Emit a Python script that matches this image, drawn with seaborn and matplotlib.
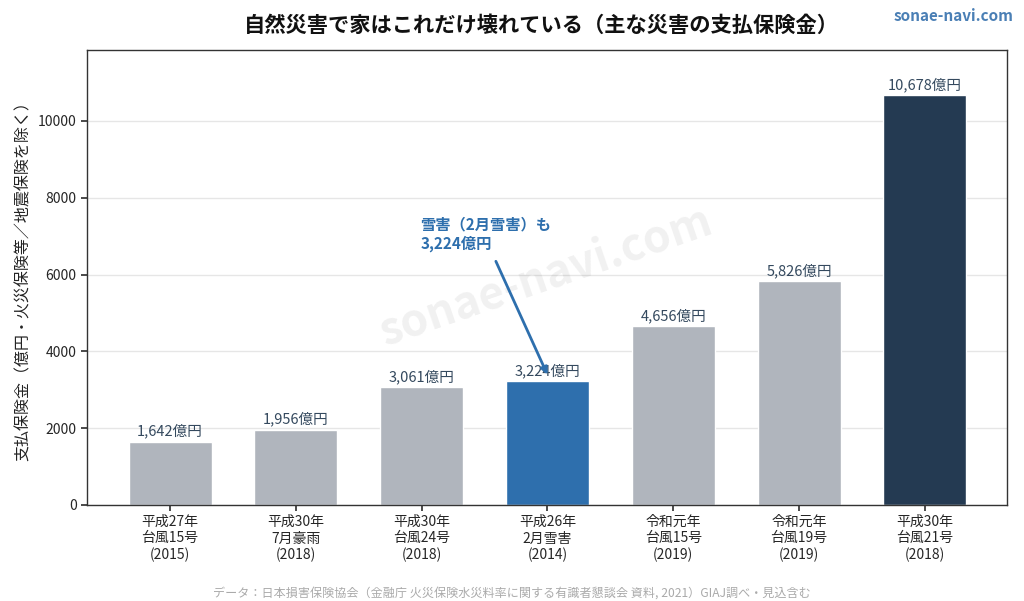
import matplotlib
matplotlib.use('Agg')
import matplotlib.pyplot as plt
import seaborn as sns
import pandas as pd

# Data
labels = ['平成27年\n台風15号\n(2015)', '平成30年\n7月豪雨\n(2018)', '平成30年\n台風24号\n(2018)',
          '平成26年\n2月雪害\n(2014)', '令和元年\n台風15号\n(2019)', '令和元年\n台風19号\n(2019)',
          '平成30年\n台風21号\n(2018)']
payouts = [1642, 1956, 3061, 3224, 4656, 5826, 10678]
bar_colors = ['#b0b5bd', '#b0b5bd', '#b0b5bd', '#2e6fad', '#b0b5bd', '#b0b5bd', '#243a52']

df = pd.DataFrame({'event': labels, 'payout': payouts})

sns.set_theme(style='white')
plt.rcParams['font.family'] = ['Noto Sans CJK JP', 'DejaVu Sans']

fig, ax = plt.subplots(figsize=(10.24, 6.01), dpi=100)
fig.subplots_adjust(left=0.085, right=0.983, top=0.917, bottom=0.16)

sns.barplot(data=df, x='event', y='payout', hue='event', palette=bar_colors,
            legend=False, width=0.66, saturation=1, ax=ax)

ax.set_xlim(-0.66, 6.65)
ax.set_ylim(0, max(payouts) * 1.11)
ax.yaxis.grid(True, color='#e6e6e6', linewidth=1)
ax.set_axisbelow(True)
for s in ax.spines.values():
    s.set_color('#333333')
    s.set_linewidth(1)
ax.tick_params(axis='both', length=4, color='#333333', labelsize=10, bottom=True, left=True)
ax.set_xlabel('')
ax.set_ylabel('支払保険金（億円・火災保険等／地震保険を除く）', fontsize=11.5, color='#222222')

for i, v in enumerate(payouts):
    ax.text(i, v + 80, f'{v:,}億円', ha='center', va='bottom', fontsize=10.5, color='#34495e')

# watermark
ax.text(0.5, 0.5, 'sonae-navi.com', transform=ax.transAxes, fontsize=32, fontweight='bold',
        color='#000000', alpha=0.06, rotation=19, ha='center', va='center')

# annotation for snow damage
ax.text(1.99, 6600, '雪害（2月雪害）も\n3,224億円', fontsize=11, fontweight='bold',
        color='#2e6fad', ha='left', va='bottom')
ax.annotate('', xy=(3, 3390), xytext=(2.59, 6345),
            arrowprops=dict(arrowstyle='-|>', color='#2e6fad', lw=2, shrinkA=0, shrinkB=0,
                            mutation_scale=10))

fig.text(0.529, 0.958, '自然災害で家はこれだけ壊れている（主な災害の支払保険金）', ha='center', va='center',
         fontsize=15.3, fontweight='bold', color='#111111')
fig.text(0.99, 0.974, 'sonae-navi.com', ha='right', va='center', fontsize=11,
         fontweight='bold', color='#4a7fb5')
fig.text(0.5, 0.003, 'データ：日本損害保険協会（金融庁 火災保険水災料率に関する有識者懇談会 資料, 2021）GIAJ調べ・見込含む',
         ha='center', va='bottom', fontsize=8.7, color='#aaaaaa')

fig.savefig('out.png', dpi=100)
